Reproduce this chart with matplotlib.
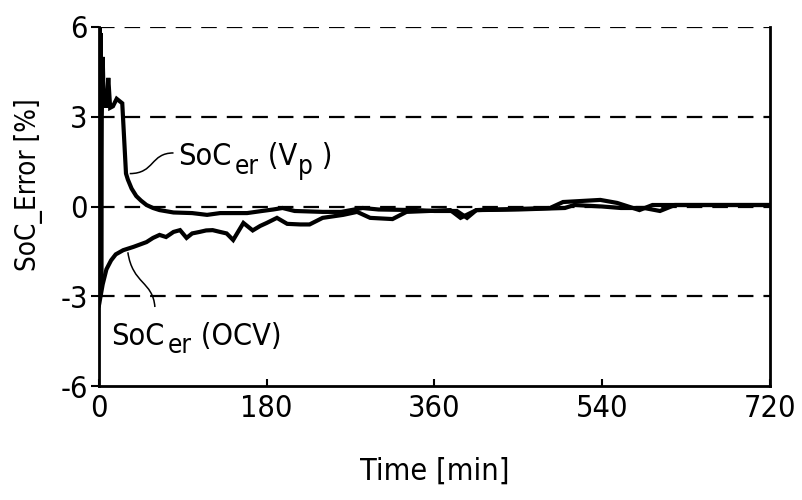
import matplotlib
matplotlib.use('Agg')
import matplotlib.pyplot as plt
import matplotlib.transforms as mtransforms
from matplotlib.path import Path
from matplotlib.patches import PathPatch

# time [min] and error [%]
t_vp = [0, 0.6, 1.2, 1.8, 2.4, 3, 4, 5, 6, 8, 10, 12, 15, 19, 25, 29, 31, 35, 40, 45, 51,
        58, 65, 80, 100, 116, 130, 159, 175, 187, 197, 210, 240, 260, 283, 300, 341,
        360, 384, 395, 405, 450, 500, 510, 540, 560, 585, 602, 618, 660, 720]
soc_vp = [-3.2, 6.0, -3.0, 5.8, -2.5, 3.0, 5.0, 3.6, 3.9, 3.3, 4.3, 3.3, 3.35, 3.6, 3.45,
          1.1, 0.9, 0.6, 0.35, 0.2, 0.05, -0.05, -0.12, -0.2, -0.22, -0.28, -0.22, -0.22,
          -0.15, -0.1, -0.05, -0.15, -0.18, -0.18, -0.05, -0.1, -0.12, -0.15, -0.15, -0.38,
          -0.12, -0.1, -0.05, 0.05, 0.0, -0.05, -0.05, -0.15, 0.05, 0.05, 0.05]

t_ocv = [0, 4, 8, 13, 18, 26, 37, 51, 58, 65, 72, 80, 87, 94, 100, 108, 115, 122, 130,
         137, 144, 155, 165, 173, 180, 191, 202, 216, 226, 240, 262, 277, 291, 315, 330,
         377, 388, 405, 484, 498, 538, 556, 580, 594, 720]
soc_ocv = [-3.3, -2.6, -2.1, -1.8, -1.6, -1.46, -1.35, -1.19, -1.05, -0.95, -1.02, -0.85,
           -0.79, -1.05, -0.9, -0.85, -0.8, -0.79, -0.85, -0.9, -1.12, -0.55, -0.8, -0.65,
           -0.55, -0.38, -0.58, -0.6, -0.6, -0.38, -0.28, -0.18, -0.38, -0.42, -0.18,
           -0.12, -0.38, -0.12, -0.05, 0.15, 0.22, 0.12, -0.12, 0.05, 0.05]

x_ticks = [0, 180, 360, 540, 720]
y_ticks = [-6, -3, 0, 3, 6]

plt.rcParams['font.family'] = 'DejaVu Sans'
plt.rcParams['font.stretch'] = 'condensed'
plt.rcParams['axes.unicode_minus'] = False

fig = plt.figure(figsize=(8.02, 5.0), dpi=100)
ax = fig.add_axes([0.1234, 0.228, 0.8366, 0.718])


def label(x, y, parts, size=22):
    # parts: (text, scale, drop in points, gap before in points) written one after another
    renderer = fig.canvas.get_renderer()
    dx = 0.0
    for s, k, drop, gap in parts:
        dx += gap
        tr = ax.transData + mtransforms.ScaledTranslation(dx / 72, -drop / 72, fig.dpi_scale_trans)
        t = ax.text(x, y, s, fontsize=size * k, va='baseline', ha='left', transform=tr)
        dx += t.get_window_extent(renderer).width * 72 / fig.dpi


for y in [-3, 0, 3, 6]:
    ax.axhline(y, color='black', lw=1.6, ls=(0, (7, 4.5)), zorder=1)

ax.plot(t_vp, soc_vp, color='black', lw=3, solid_joinstyle='miter', zorder=3)
ax.plot(t_ocv, soc_ocv, color='black', lw=3, solid_joinstyle='miter', zorder=3)

# S-shaped leader lines to the labels
for verts in ([(33, 1.1), (60, 1.1), (55, 1.79), (80, 1.79)],
              [(31, -1.53), (36, -2.6), (58, -2.5), (60, -3.36)]):
    path = Path(verts, [Path.MOVETO, Path.CURVE4, Path.CURVE4, Path.CURVE4])
    ax.add_patch(PathPatch(path, fill=False, color='black', lw=1.1, zorder=2))

label(85, 1.38, [('SoC', 1, 0, 0), ('er', 0.85, 6, 2.5), (' (V', 1, 0, 0), ('p', 0.85, 6, 0.5), (' )', 1, 0, 0)])
label(13, -4.62, [('SoC', 1, 0, 0), ('er', 0.85, 6, 2.5), (' (OCV)', 1, 0, 0)])

ax.set_xlim(0, 720)
ax.set_ylim(-6, 6)
ax.set_xticks(x_ticks)
ax.set_yticks(y_ticks)
ax.tick_params(axis='x', direction='in', length=5, width=1.5, labelsize=22, pad=6)
ax.tick_params(axis='y', direction='out', length=6, width=1.5, labelsize=22, pad=2)

ax.spines['top'].set_visible(False)
for s in ['left', 'bottom', 'right']:
    ax.spines[s].set_linewidth(2)

ax.set_xlabel('Time [min]', fontsize=22, labelpad=24)
ax.set_ylabel('SoC_Error [%]', fontsize=20)
ax.yaxis.set_label_coords(-0.083, 0.56)

fig.savefig('out.png', dpi=100)
